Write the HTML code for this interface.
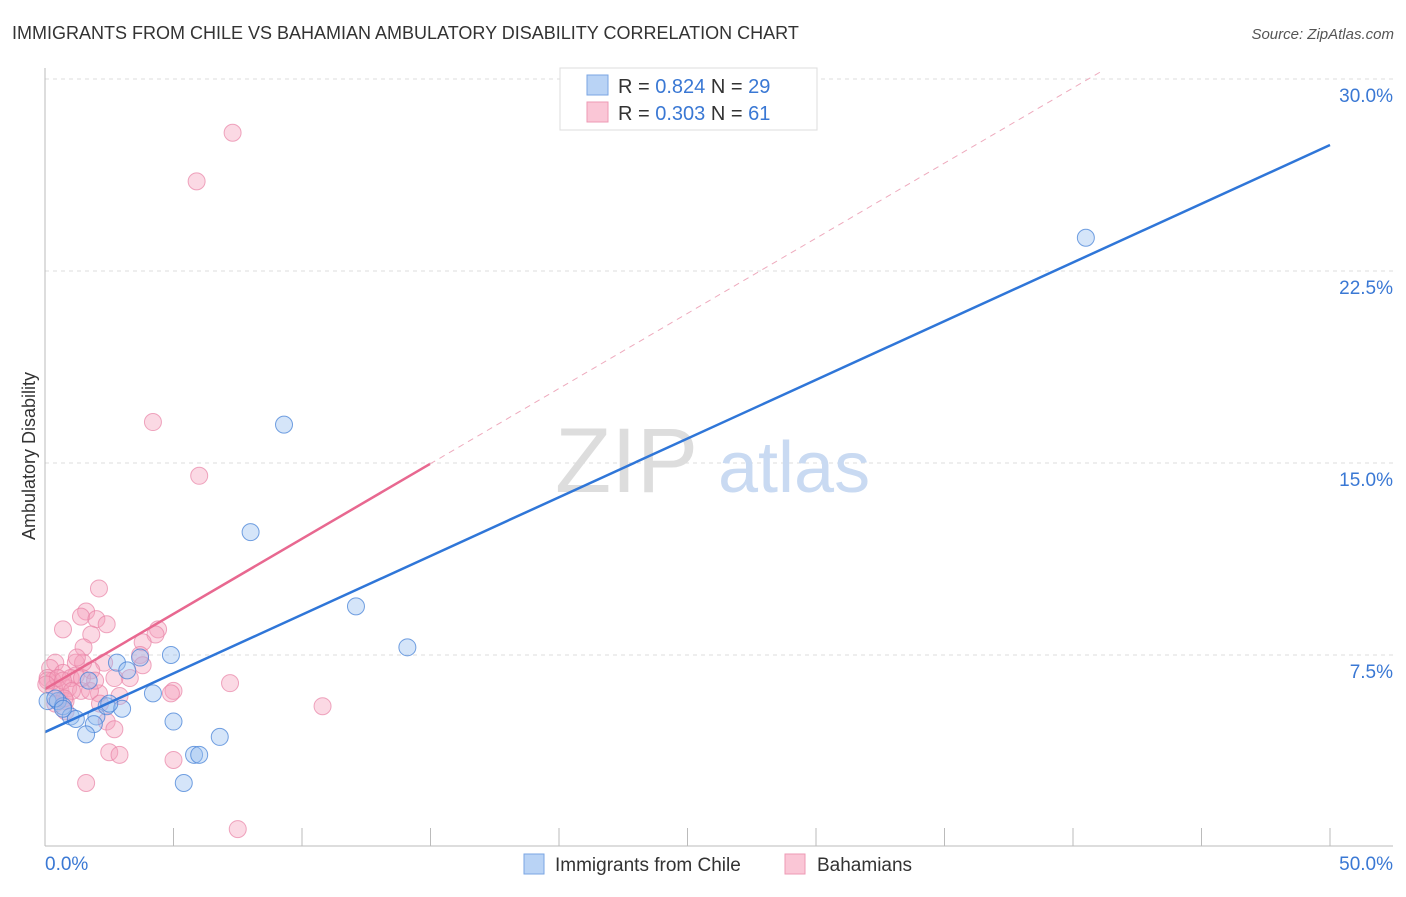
<!DOCTYPE html>
<html><head><meta charset="utf-8"><style>
body{margin:0;background:#fff;font-family:"Liberation Sans",sans-serif;}
svg text{font-family:"Liberation Sans",sans-serif;}
</style></head><body>
<svg id="c" width="1406" height="892" xmlns="http://www.w3.org/2000/svg">
<text x="12" y="39" font-size="18" fill="#333">IMMIGRANTS FROM CHILE VS BAHAMIAN AMBULATORY DISABILITY CORRELATION CHART</text>
<text x="1394" y="39" font-size="15" fill="#555" font-style="italic" text-anchor="end">Source: ZipAtlas.com</text>
<text x="35" y="456" font-size="18" fill="#333" text-anchor="middle" transform="rotate(-90 35 456)">Ambulatory Disability</text>
<g id="grid"></g>
<g id="wm"><text x="555" y="492" font-size="92" fill="#ddd" font-family="Liberation Serif">ZIP</text><text x="718" y="492" font-size="72" fill="#c9daf2">atlas</text></g>
<g id="pts"></g>
<g id="lines"></g>
<g id="axes"></g>
<g>
<rect x="560" y="68" width="257" height="62" fill="#fff" stroke="#ddd"/>
<rect x="587" y="75" width="21" height="20" fill="#b9d3f5" stroke="#7aa6e3"/>
<rect x="587" y="102" width="21" height="20" fill="#fac6d6" stroke="#ee9ab4"/>
<text x="618" y="93" font-size="20" fill="#333">R = <tspan fill="#3a78d4">0.824</tspan>   N = <tspan fill="#3a78d4">29</tspan></text>
<text x="618" y="120" font-size="20" fill="#333">R = <tspan fill="#3a78d4">0.303</tspan>   N =  <tspan fill="#3a78d4">61</tspan></text>
</g>
<g>
<rect x="524" y="854" width="20" height="20" fill="#b9d3f5" stroke="#7aa6e3"/>
<text x="555" y="871" font-size="19" fill="#333">Immigrants from Chile</text>
<rect x="785" y="854" width="20" height="20" fill="#fac6d6" stroke="#ee9ab4"/>
<text x="817" y="871" font-size="19" fill="#333">Bahamians</text>
</g>
</svg>
<script>
const yTicks=[7.5,15.0,22.5,30.0];
const yTickLabels=["7.5%","15.0%","22.5%","30.0%"];
const xTickLabels=["0.0%","50.0%"];
const chileX=[40.5,9.3,8.0,12.1,14.1,4.9,2.8,3.7,3.2,1.7,4.2,0.1,0.5,0.7,1.0,1.2,2.0,2.4,3.0,5.0,1.9,1.6,6.8,5.8,6.0,5.4,0.4,2.5,0.7];
const chileY=[23.8,16.5,12.3,9.4,7.8,7.5,7.2,7.4,6.9,6.5,6.0,5.7,5.7,5.5,5.1,5.0,5.1,5.5,5.4,4.9,4.8,4.4,4.3,3.6,3.6,2.5,5.8,5.6,5.4];
const bahX=[7.3,5.9,4.2,6.0,2.1,1.6,1.4,2.0,2.4,0.7,4.4,1.8,4.3,3.8,1.5,3.7,1.2,0.4,2.3,3.8,0.2,0.7,1.2,1.8,3.3,2.7,7.2,5.0,4.9,2.1,2.9,0.6,0.9,0.3,0.1,0.35,0.8,1.4,1.75,0.4,0.8,2.4,2.7,2.5,2.9,5.0,1.6,7.5,10.8,0.1,0.5,1.0,0.05,0.7,1.05,1.44,1.95,0.75,2.14,1.48,1.24];
const bahY=[27.9,26.0,16.6,14.5,10.1,9.2,9.0,8.9,8.7,8.5,8.5,8.3,8.3,8.0,7.8,7.5,7.2,7.2,7.2,7.1,6.99,6.8,6.7,6.9,6.6,6.6,6.4,6.1,6.0,6.0,5.9,6.1,6.2,6.5,6.6,6.2,5.7,6.1,6.1,5.6,5.3,4.9,4.6,3.7,3.6,3.4,2.5,0.7,5.5,6.5,6.6,6.6,6.35,6.5,6.1,6.6,6.5,5.8,5.6,7.2,7.4];
const chileTrend=[4.49,27.42];
const bahTrend=[6.17,0.587,14.98];
const NS="http://www.w3.org/2000/svg";
const X=v=>45+v/50*1285, Y=v=>847-v*25.6;
function mk(t,a,p){const e=document.createElementNS(NS,t);for(const k in a)e.setAttribute(k,a[k]);p.appendChild(e);return e;}
const grid=document.getElementById('grid'),axes=document.getElementById('axes');
yTicks.forEach((t,i)=>{
 const l=mk('line',{x1:45,x2:1393,y1:Y(t),y2:Y(t),stroke:'#ddd','stroke-dasharray':'4,4'},grid);
 
 
 const tx=mk('text',{x:1393,y:Y(t)+23,'font-size':19,fill:'#3a78d4','text-anchor':'end'},axes);tx.textContent=yTickLabels[i];
 
 
});
let a=mk('line',{x1:45,x2:45,y1:68,y2:846,stroke:'#bbb'},axes);


a=mk('line',{x1:45,x2:1393,y1:846,y2:846,stroke:'#bbb'},axes);


for(let i=1;i<=10;i++){const t=mk('line',{x1:X(i*5),x2:X(i*5),y1:828,y2:846,stroke:'#bbb'},axes);
 
 }
[[0,'start',45],[50,'end',1393]].forEach((d,i)=>{const t=mk('text',{x:d[2],y:870,'font-size':19,fill:'#3a78d4','text-anchor':d[1]},axes);t.textContent=xTickLabels[i];
 
 });
const pts=document.getElementById('pts');
bahX.forEach((x,i)=>{const c=mk('circle',{cx:X(x),cy:Y(bahY[i]),r:8.5,fill:'rgba(246,160,188,0.4)',stroke:'rgba(232,130,165,0.7)'},pts);
 
 });
chileX.forEach((x,i)=>{const c=mk('circle',{cx:X(x),cy:Y(chileY[i]),r:8.5,fill:'rgba(150,190,240,0.4)',stroke:'rgba(70,130,215,0.75)'},pts);
 
 });
const lines=document.getElementById('lines');
let L=mk('line',{x1:X(0),y1:Y(chileTrend[0]),x2:X(50),y2:Y(chileTrend[1]),stroke:'#2f76d8','stroke-width':2.5},lines);


const bY=x=>bahTrend[0]+bahTrend[1]*x;
L=mk('line',{x1:X(0),y1:Y(bY(0)),x2:X(bahTrend[2]),y2:Y(bY(bahTrend[2])),stroke:'#e86890','stroke-width':2.5},lines);


const xe=(30.3-bahTrend[0])/bahTrend[1];
L=mk('line',{x1:X(bahTrend[2]),y1:Y(bY(bahTrend[2])),x2:X(xe),y2:Y(bY(xe)),stroke:'#eeaabd','stroke-width':1,'stroke-dasharray':'6,5'},lines);


</script>
</body></html>
